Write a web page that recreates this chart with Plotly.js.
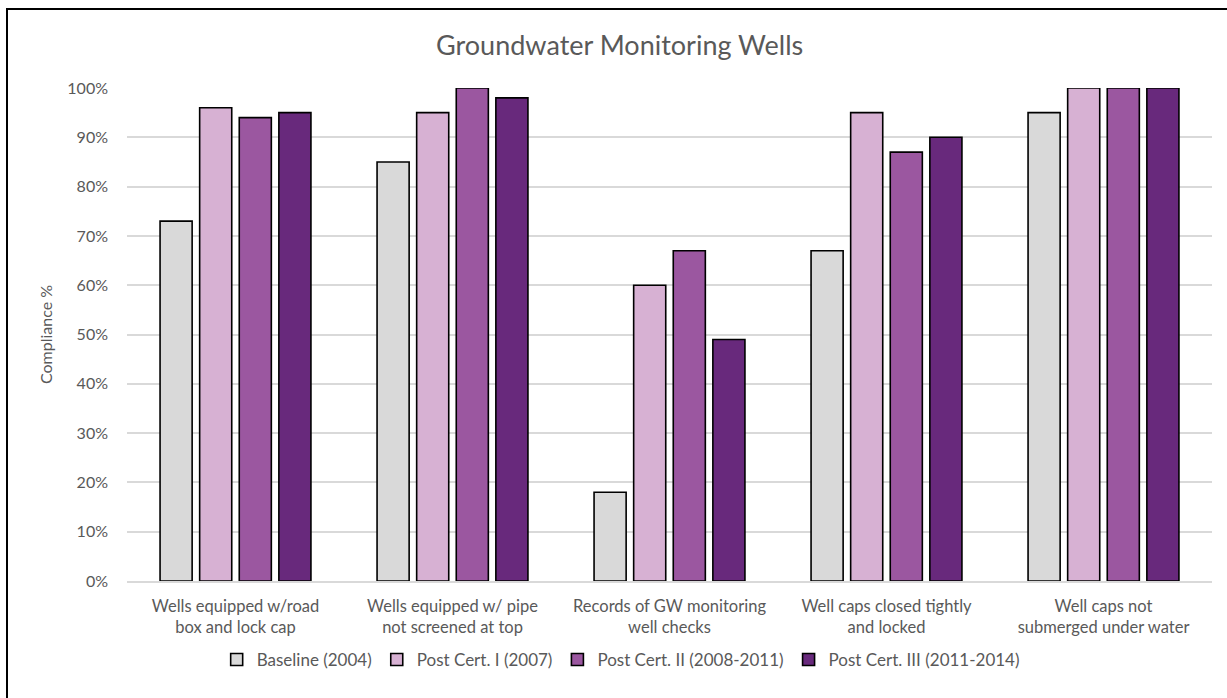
<!DOCTYPE html>
<html>
<head>
<meta charset="utf-8">
<script src="https://cdn.plot.ly/plotly-3.0.1.min.js"></script>
<style>
html,body{margin:0;padding:0;background:#fff;}
#chart{position:absolute;left:0;top:0;width:1227px;height:698px;}
#frame{position:absolute;left:6px;top:8px;width:1240px;height:720px;border-left:2.5px solid #000;border-top:2.5px solid #000;pointer-events:none;}
</style>
</head>
<body>
<div id="chart"></div>
<div id="frame"></div>
<script>
const categories = [
  "Wells equipped w/road<br>box and lock cap",
  "Wells equipped w/ pipe<br>not screened at top",
  "Records of GW monitoring<br>well checks",
  "Well caps closed tightly<br>and locked",
  "Well caps not<br>submerged under water"
];
const seriesNames = ["Baseline (2004)", "Post Cert. I (2007)", "Post Cert. II (2008-2011)", "Post Cert. III (2011-2014)"];
const baseline = [73, 85, 18, 67, 95];
const postCert1 = [96, 95, 60, 95, 100];
const postCert2 = [94, 100, 67, 87, 100];
const postCert3 = [95, 98, 49, 90, 100];
const colors = ["#d9d9d9", "#d7b1d3", "#9b57a0", "#68297c"];

const values = [baseline, postCert1, postCert2, postCert3];
const FONT = "Lato, 'Open Sans', sans-serif";
const traces = values.map((v, i) => ({
  type: "bar",
  name: seriesNames[i],
  x: categories,
  y: v,
  marker: {color: colors[i], line: {color: "#000", width: 1.6}},
  hoverinfo: "y+name"
}));

const layout = {
  width: 1227, height: 698,
  paper_bgcolor: "#fff", plot_bgcolor: "#fff",
  margin: {l: 127, r: 15, t: 88, b: 117},
  title: {text: "Groundwater Monitoring Wells", x: 0.505, xanchor: "center", y: 0.935, yanchor: "middle",
          font: {family: FONT, size: 27, color: "#595959"}},
  barmode: "group",
  bargap: 0.27,
  bargroupgap: 0.19,
  font: {family: FONT, color: "#595959", size: 14},
  xaxis: {
    showline: true, linecolor: "#d9d9d9", linewidth: 1.5,
    tickfont: {family: FONT, size: 16.5, color: "#595959"},
    ticklabelstandoff: 9,
    showgrid: false, ticks: "", fixedrange: true
  },
  yaxis: {
    range: [0, 100], dtick: 10, ticksuffix: "%",
    showgrid: true, gridcolor: "#d9d9d9", gridwidth: 1.5,
    zeroline: false, ticklabelstandoff: 18,
    tickfont: {family: FONT, size: 16, color: "#595959"},
    title: {text: "Compliance %", standoff: 10, font: {family: FONT, size: 16, color: "#595959"}}
  },
  legend: {
    orientation: "h", x: 0.455, xanchor: "center", y: -0.16, yanchor: "middle",
    font: {family: FONT, size: 17, color: "#595959"},
    itemwidth: 30, traceorder: "normal"
  },
  showlegend: true
};

Plotly.newPlot("chart", traces, layout, {displayModeBar: false, responsive: false});
</script>
</body>
</html>
